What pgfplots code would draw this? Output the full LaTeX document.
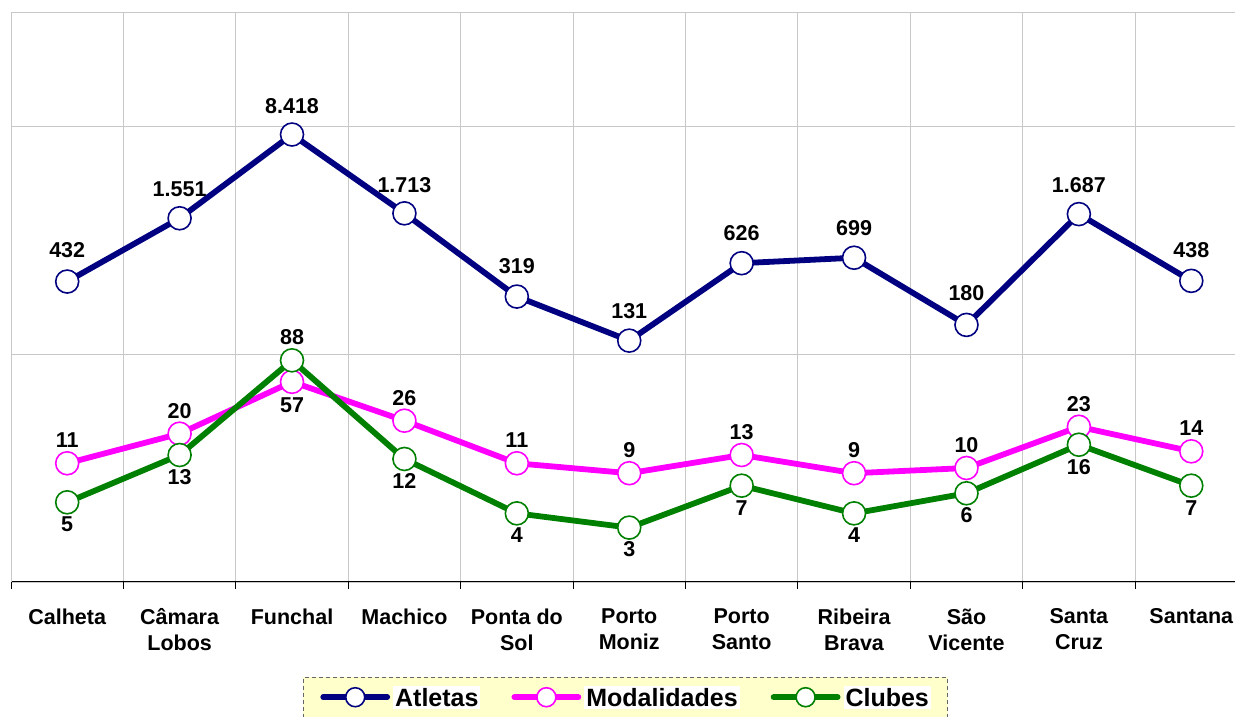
\documentclass[border=0pt]{standalone}
\usepackage{pgfplots}
\pgfplotsset{compat=1.18}
\usepackage{pgfplotstable}
\usepackage{fontspec}
\setmainfont{Liberation Sans}

\definecolor{atl}{RGB}{0,0,128}
\definecolor{mod}{RGB}{255,0,255}
\definecolor{clu}{RGB}{0,128,0}
\definecolor{legbg}{RGB}{255,255,204}
\definecolor{gridc}{RGB}{200,200,200}

\pgfplotstableread{
x y lab s
0 432 432 31
1 1551 1.551 29
2 8418 8.418 28
3 1713 1.713 28
4 319 319 30
5 131 131 30
6 626 626 30
7 699 699 30
8 180 180 32
9 1687 1.687 29
10 438 438 31
}\atletas

\pgfplotstableread{
x y lab s
0 11 11 23
1 20 20 23
2 57 57 -23
3 26 26 23
4 11 11 23
5 9 9 23
6 13 13 23
7 9 9 23
8 10 10 23
9 23 23 23
10 14 14 23
}\modalidades

\pgfplotstableread{
x y lab s
0 5 5 -22
1 13 13 -22
2 88 88 23
3 12 12 -22
4 4 4 -22
5 3 3 -22
6 7 7 -22
7 4 4 -22
8 6 6 -22
9 16 16 -22
10 7 7 -22
}\clubes

\begin{document}
\begin{tikzpicture}
\begin{axis}[
  at={(0pt,0pt)}, anchor=south west,
  width=1236.5pt, height=570pt, scale only axis,
  xmin=-0.5, xmax=10.5,
  ymode=log, ymin=1, ymax=100000,
  axis x line*=bottom, axis y line*=left,
  x axis line style={black, line width=1pt, -},
  y axis line style={gridc, line width=1pt, -},
  xtick={-0.5,0.5,...,10.5}, xticklabels={},
  xmajorgrids, ymajorgrids,
  grid style={gridc, line width=0.8pt},
  xtick style={black, line width=1pt},
  tick align=outside, major tick length=7pt,
  ytick={1,100,10000,100000}, yticklabels={},
  ytick style={draw=none},
  yminorgrids=false, minor ytick={},
  extra x ticks={0,1,2,3,4,5,6,7,8,9,10},
  extra x tick labels={Calheta,Câmara\\Lobos,Funchal,Machico,Ponta do\\Sol,Porto\\Moniz,Porto\\Santo,Ribeira\\Brava,São\\Vicente,Santa\\Cruz,Santana},
  extra x tick style={grid=none, major tick length=0pt,
    tick label style={align=center, anchor=north, yshift=-23pt,
      font=\fontsize{21.5}{26}\selectfont\bfseries}},
  nodes near coords,
  point meta=explicit symbolic,
  visualization depends on={\thisrow{s} \as \myshift},
  nodes near coords style={anchor=center, yshift=\myshift pt,
    font=\fontsize{21.5}{24}\selectfont\bfseries, text=black},
  legend columns=3,
  legend style={at={(axis description cs:0.2361,-0.1667)}, anchor=north west,
    fill=legbg, draw=black!60, dash pattern=on 4pt off 3pt, line width=0.8pt,
    font=\fontsize{25}{28}\selectfont\bfseries,
    inner xsep=17pt, inner ysep=8pt,
    nodes={inner xsep=0pt, inner ysep=1pt},
    /tikz/every odd column/.append style={column sep=3pt},
    /tikz/every even column/.append style={column sep=31pt}},
  legend image code/.code={\draw[#1, solid, line cap=round, mark repeat=2, mark phase=2, mark size=9.5pt]
     plot coordinates {(0pt,0pt) (32pt,0pt) (64pt,0pt)};},
]
\addplot[atl, solid, line width=5.8pt, mark=*, mark size=11.5pt,
  mark options={fill=white, draw=atl, line width=1.6pt, solid}]
  table[x=x, y=y, meta=lab] {\atletas};
\addplot[mod, solid, line width=5.8pt, mark=*, mark size=11.5pt,
  mark options={fill=white, draw=mod, line width=1.6pt, solid}]
  table[x=x, y=y, meta=lab] {\modalidades};
\addplot[clu, solid, line width=5.8pt, mark=*, mark size=11.5pt,
  mark options={fill=white, draw=clu, line width=1.6pt, solid}]
  table[x=x, y=y, meta=lab] {\clubes};
\legend{{\setlength\fboxsep{2pt}\colorbox{white}{Atletas}},
  {\setlength\fboxsep{2pt}\colorbox{white}{Modalidades}},
  {\setlength\fboxsep{2pt}\colorbox{white}{Clubes}}}
\end{axis}
\pgfresetboundingbox
\path (-11pt,-135pt) rectangle (1224pt,582pt);
\end{tikzpicture}
\end{document}
